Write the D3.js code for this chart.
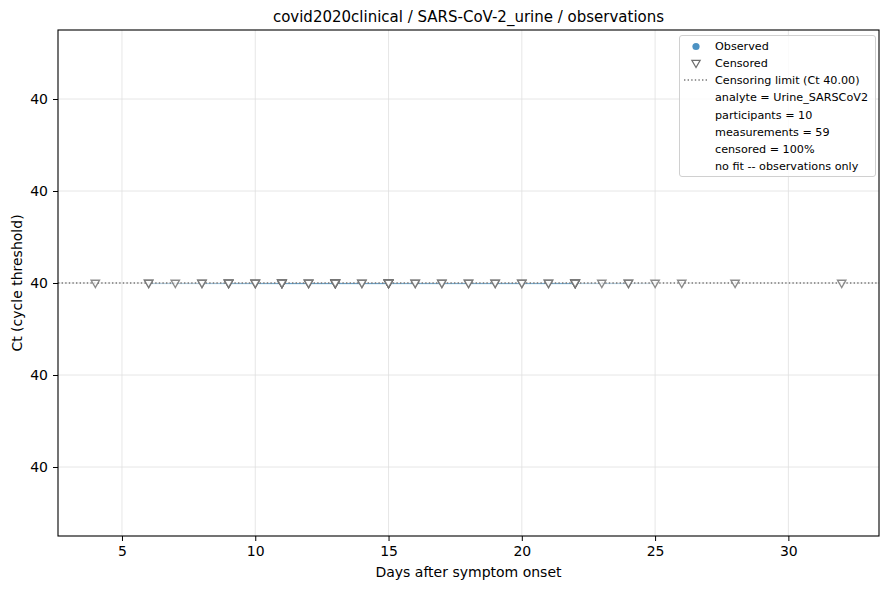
<!DOCTYPE html>
<html><head><meta charset="utf-8">
<script src="https://cdn.jsdelivr.net/npm/d3@7"></script>
<style>body{margin:0;background:#fff}svg{font-family:"DejaVu Sans",sans-serif}</style>
</head><body><svg id="c" width="890" height="590"></svg>
<script>
const title = "covid2020clinical / SARS-CoV-2_urine / observations";
const xLabel = "Days after symptom onset";
const yLabel = "Ct (cycle threshold)";
const censorLimit = 40.0;
const xTicks = [5, 10, 15, 20, 25, 30];
const yTicks = [39.96, 39.98, 40.00, 40.02, 40.04];
// per-participant measurement days (all censored at Ct 40)
const participants = [
  {id: "P01", days: [4]},
  {id: "P02", days: [32]},
  {id: "P03", days: [28]},
  {id: "P04", days: [26]},
  {id: "P05", days: [6,7,8,9,10,11,12,13,14,15,16,17,18,19,20,21,22,23,24,25]},
  {id: "P06", days: [9,11,13,15,17,19,21,22]},
  {id: "P07", days: [8,9,10,11,12,13,14,15]},
  {id: "P08", days: [11,13,15,18,20,22,24]},
  {id: "P09", days: [10,12,13,15,16,22]},
  {id: "P10", days: [6,9,11,13,15,22]}
];
const observed = []; // no detected values
const legendText = ["Observed","Censored","Censoring limit (Ct 40.00)","analyte = Urine_SARSCoV2",
  "participants = 10","measurements = 59","censored = 100%","no fit -- observations only"];

const svg = d3.select("#c");
const m = {l:58, r:879, t:30, b:536};
const x = d3.scaleLinear().domain([2.6, 33.4]).range([m.l, m.r]);
const y = d3.scaleLinear().domain([39.945, 40.055]).range([m.b, m.t]);

// grid
const g = svg.append("g");
g.selectAll(".gx").data(xTicks).join("line")
  .attr("x1", d=>x(d)).attr("x2", d=>x(d)).attr("y1", m.t).attr("y2", m.b)
  .attr("stroke", "#e0e0e0").attr("stroke-width", 0.8);
g.selectAll(".gy").data(yTicks).join("line")
  .attr("y1", d=>y(d)).attr("y2", d=>y(d)).attr("x1", m.l).attr("x2", m.r)
  .attr("stroke", "#e0e0e0").attr("stroke-width", 0.8);

// participant trajectories
const line = d3.line().x(d=>x(d)).y(()=>y(censorLimit)+0.6);
participants.filter(p=>p.days.length>1).forEach(p=>{
  svg.append("path").attr("d", line(p.days)).attr("fill","none")
    .attr("stroke", "#1f77b4").attr("stroke-opacity", 0.18).attr("stroke-width", 1);
});

// censor limit line
svg.append("line").attr("x1", m.l).attr("x2", m.r)
  .attr("y1", y(censorLimit)).attr("y2", y(censorLimit))
  .attr("stroke", "#7a7a7a").attr("stroke-width", 1.4).attr("stroke-dasharray", "1.4,2.2");

// censored markers
const tri = d3.symbol().type(d3.symbolTriangle).size(30);
participants.forEach(p=>{
  p.days.forEach(d=>{
    svg.append("path").attr("d", tri())
      .attr("transform", `translate(${x(d)},${y(censorLimit)-0.3}) rotate(180)`)
      .attr("fill", "white").attr("fill-opacity", 0.7)
      .attr("stroke", "#6e6e6e").attr("stroke-opacity", 0.8).attr("stroke-width", 1.4);
  });
});

// axes
const xa = svg.append("g").attr("transform", `translate(0,${m.b})`)
  .call(d3.axisBottom(x).tickValues(xTicks).tickSize(5).tickPadding(5).tickFormat(d3.format("d")));
const ya = svg.append("g").attr("transform", `translate(${m.l},0)`)
  .call(d3.axisLeft(y).tickValues(yTicks).tickSize(5).tickPadding(5).tickFormat(d3.format(".0f")));
[xa, ya].forEach(a=>{
  a.select(".domain").remove();
  a.selectAll("text").attr("font-size", 14).attr("fill", "#000").attr("font-family", "DejaVu Sans");
  a.selectAll("line").attr("stroke", "#000").attr("stroke-width", 1);
});
svg.append("rect").attr("x", m.l).attr("y", m.t).attr("width", m.r-m.l).attr("height", m.b-m.t)
  .attr("fill", "none").attr("stroke", "#000").attr("stroke-width", 1.1);

// labels
svg.append("text").attr("x", (m.l+m.r)/2).attr("y", 21.5).attr("text-anchor","middle")
  .attr("font-size", 15).text(title);
svg.append("text").attr("x", (m.l+m.r)/2).attr("y", 577).attr("text-anchor","middle")
  .attr("font-size", 14).text(xLabel);
svg.append("text").attr("transform", `translate(22,${(m.t+m.b)/2}) rotate(-90)`)
  .attr("text-anchor","middle").attr("font-size", 14).text(yLabel);

// legend
const lg = svg.append("g");
lg.append("rect").attr("x", 679.5).attr("y", 35.5).attr("width", 196).attr("height", 141).attr("rx", 2.5)
  .attr("fill", "white").attr("fill-opacity", 0.8).attr("stroke", "#d0d0d0");
const rowY = i => 45.5 + i*17.25;
legendText.forEach((t,i)=>{
  lg.append("text").attr("x", 715).attr("y", rowY(i)+4).attr("font-size", 11.2).text(t);
});
lg.append("circle").attr("cx", 696).attr("cy", rowY(0)+1).attr("r", 3.6)
  .attr("fill", "#1f77b4").attr("fill-opacity", 0.8);
lg.append("path").attr("d", tri()).attr("transform", `translate(696,${rowY(1)}) rotate(180)`)
  .attr("fill","white").attr("stroke","#6e6e6e").attr("stroke-width",1.2);
lg.append("line").attr("x1", 684).attr("x2", 708).attr("y1", rowY(2)).attr("y2", rowY(2))
  .attr("stroke", "#7a7a7a").attr("stroke-width", 1.4).attr("stroke-dasharray", "1.4,2.2");
</script></body></html>
